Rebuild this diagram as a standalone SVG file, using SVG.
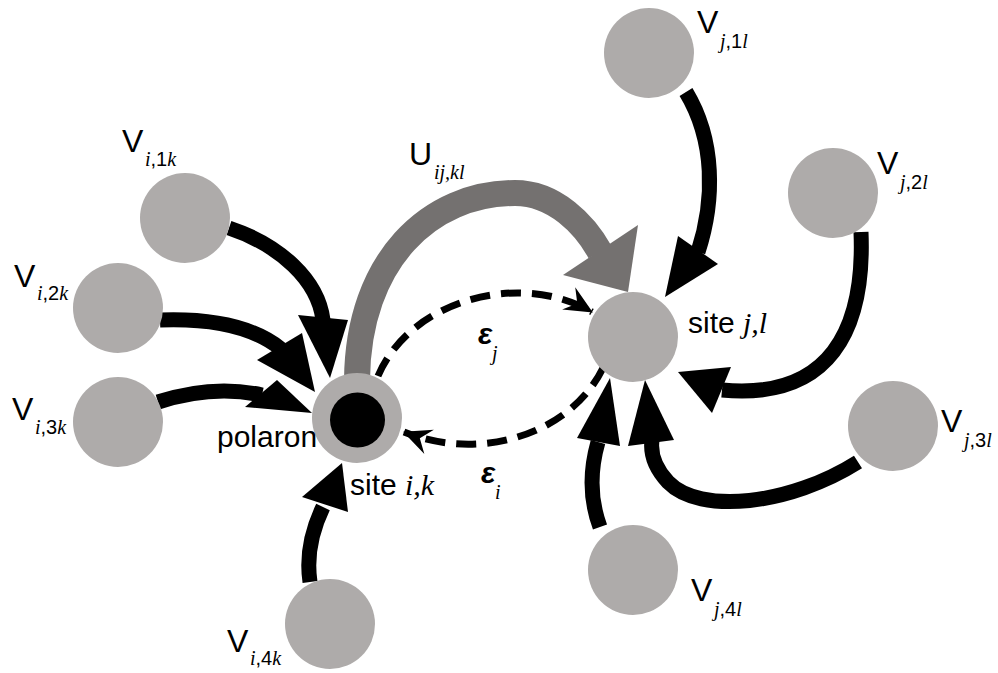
<svg xmlns="http://www.w3.org/2000/svg" width="998" height="673" viewBox="0 0 998 673">
<style>
.site{fill:#AEABAA}
.conn{fill:none;stroke:#000;stroke-width:15}
.head{fill:#000}
.ghead{fill:#747170}
.gconn{fill:none;stroke:#747170;stroke-width:26}
.dash{fill:none;stroke:#000;stroke-width:7;stroke-dasharray:20 11}
.lbl{font-family:"Liberation Sans",Arial,sans-serif;font-size:32px;fill:#000}
.sub{font-size:20px}
.it{font-family:"Liberation Serif","Times New Roman",serif;font-style:italic}
.eps{font-family:"Liberation Sans",Arial,sans-serif;font-style:italic;font-weight:bold;font-size:30px}
.txt{font-family:"Liberation Sans",Arial,sans-serif;font-size:30px;fill:#000}
</style>
<defs>
<marker id="dh" markerUnits="userSpaceOnUse" viewBox="-30 -15 32 30" markerWidth="32" markerHeight="30" refX="0" refY="0" orient="auto">
<path d="M1,0 L-27,-13 L-17,0 L-27,13 Z" fill="#000"/>
</marker>
</defs>

<g id="connectors">
<path class="gconn" d="M357,380 C358,260 430,193 515,193 C555,193 585,225 600,252"/>
<polygon class="ghead" points="563,275 638,225 628,292"/>
<path class="dash" d="M378,376 C410,300 520,270 592,312" marker-end="url(#dh)"/>
<path class="dash" d="M603,368 C570,435 480,462 404,432" marker-end="url(#dh)"/>

<path class="conn" d="M229,228 C280,245 318,280 323,320"/>
<polygon class="head" points="298,315 348,320 330,378"/>
<path class="conn" d="M160,320 C215,318 255,328 281,349"/>
<polygon class="head" points="257,360 302,333 315,392"/>
<path class="conn" d="M158,402 C195,390 230,388 262,395"/>
<polygon class="head" points="245,407 277,380 312,413"/>
<path class="conn" d="M310,582 C306,555 312,530 323,507"/>
<polygon class="head" points="302,497 348,512 342,463"/>

<path class="conn" d="M686,92 C715,140 715,200 698,252"/>
<polygon class="head" points="678,236 718,264 665,297"/>
<path class="conn" d="M861,232 C865,330 830,400 722,390"/>
<polygon class="head" points="731,367 712,413 678,372"/>
<path class="conn" d="M858,462 C790,505 700,515 668,482 C655,468 650,455 652,440"/>
<polygon class="head" points="628,446 674,440 645,380"/>
<path class="conn" d="M600,527 C590,500 590,470 598,442"/>
<polygon class="head" points="577,438 620,446 610,378"/>
</g>

<g id="site-ik">
<circle class="site" cx="357" cy="418" r="45"/>
<circle cx="357.5" cy="420" r="27.5" fill="#000"/>
<text class="txt" x="217" y="447" font-size="31">polaron</text>
<text class="txt" x="350" y="495">site <tspan class="it">i,k</tspan></text>
</g>
<g id="site-jl">
<circle class="site" cx="633" cy="337" r="45"/>
<text class="txt" x="688" y="333">site <tspan class="it">j,l</tspan></text>
</g>

<g id="Vi1k"><circle class="site" cx="185" cy="218" r="45"/>
<text class="lbl" x="122" y="152">V</text><text class="lbl sub" x="145" y="166"><tspan class="it">i</tspan>,1<tspan class="it">k</tspan></text></g>
<g id="Vi2k"><circle class="site" cx="118" cy="308" r="45"/>
<text class="lbl" x="14" y="287">V</text><text class="lbl sub" x="37" y="300"><tspan class="it">i</tspan>,2<tspan class="it">k</tspan></text></g>
<g id="Vi3k"><circle class="site" cx="118" cy="422" r="45"/>
<text class="lbl" x="12" y="420">V</text><text class="lbl sub" x="35" y="434"><tspan class="it">i</tspan>,3<tspan class="it">k</tspan></text></g>
<g id="Vi4k"><circle class="site" cx="330" cy="624" r="45"/>
<text class="lbl" x="227" y="652">V</text><text class="lbl sub" x="250" y="665"><tspan class="it">i</tspan>,4<tspan class="it">k</tspan></text></g>

<g id="Vj1l"><circle class="site" cx="649" cy="53" r="45"/>
<text class="lbl" x="697" y="33">V</text><text class="lbl sub" x="720" y="48"><tspan class="it">j</tspan>,1<tspan class="it">l</tspan></text></g>
<g id="Vj2l"><circle class="site" cx="833" cy="193" r="45"/>
<text class="lbl" x="877" y="174">V</text><text class="lbl sub" x="900" y="189"><tspan class="it">j</tspan>,2<tspan class="it">l</tspan></text></g>
<g id="Vj3l"><circle class="site" cx="893" cy="426" r="45"/>
<text class="lbl" x="941" y="432">V</text><text class="lbl sub" x="964" y="447"><tspan class="it">j</tspan>,3<tspan class="it">l</tspan></text></g>
<g id="Vj4l"><circle class="site" cx="633" cy="570" r="45"/>
<text class="lbl" x="691" y="601">V</text><text class="lbl sub" x="714" y="616"><tspan class="it">j</tspan>,4<tspan class="it">l</tspan></text></g>

<g id="labels">
<text class="lbl" x="409" y="165">U</text><text class="lbl sub it" x="434" y="179">ij,kl</text>
<text class="eps" x="478" y="344">ε</text><text class="lbl sub it" x="492" y="360">j</text>
<text class="eps" x="481" y="483">ε</text><text class="lbl sub it" x="495" y="499">i</text>
</g>
</svg>
